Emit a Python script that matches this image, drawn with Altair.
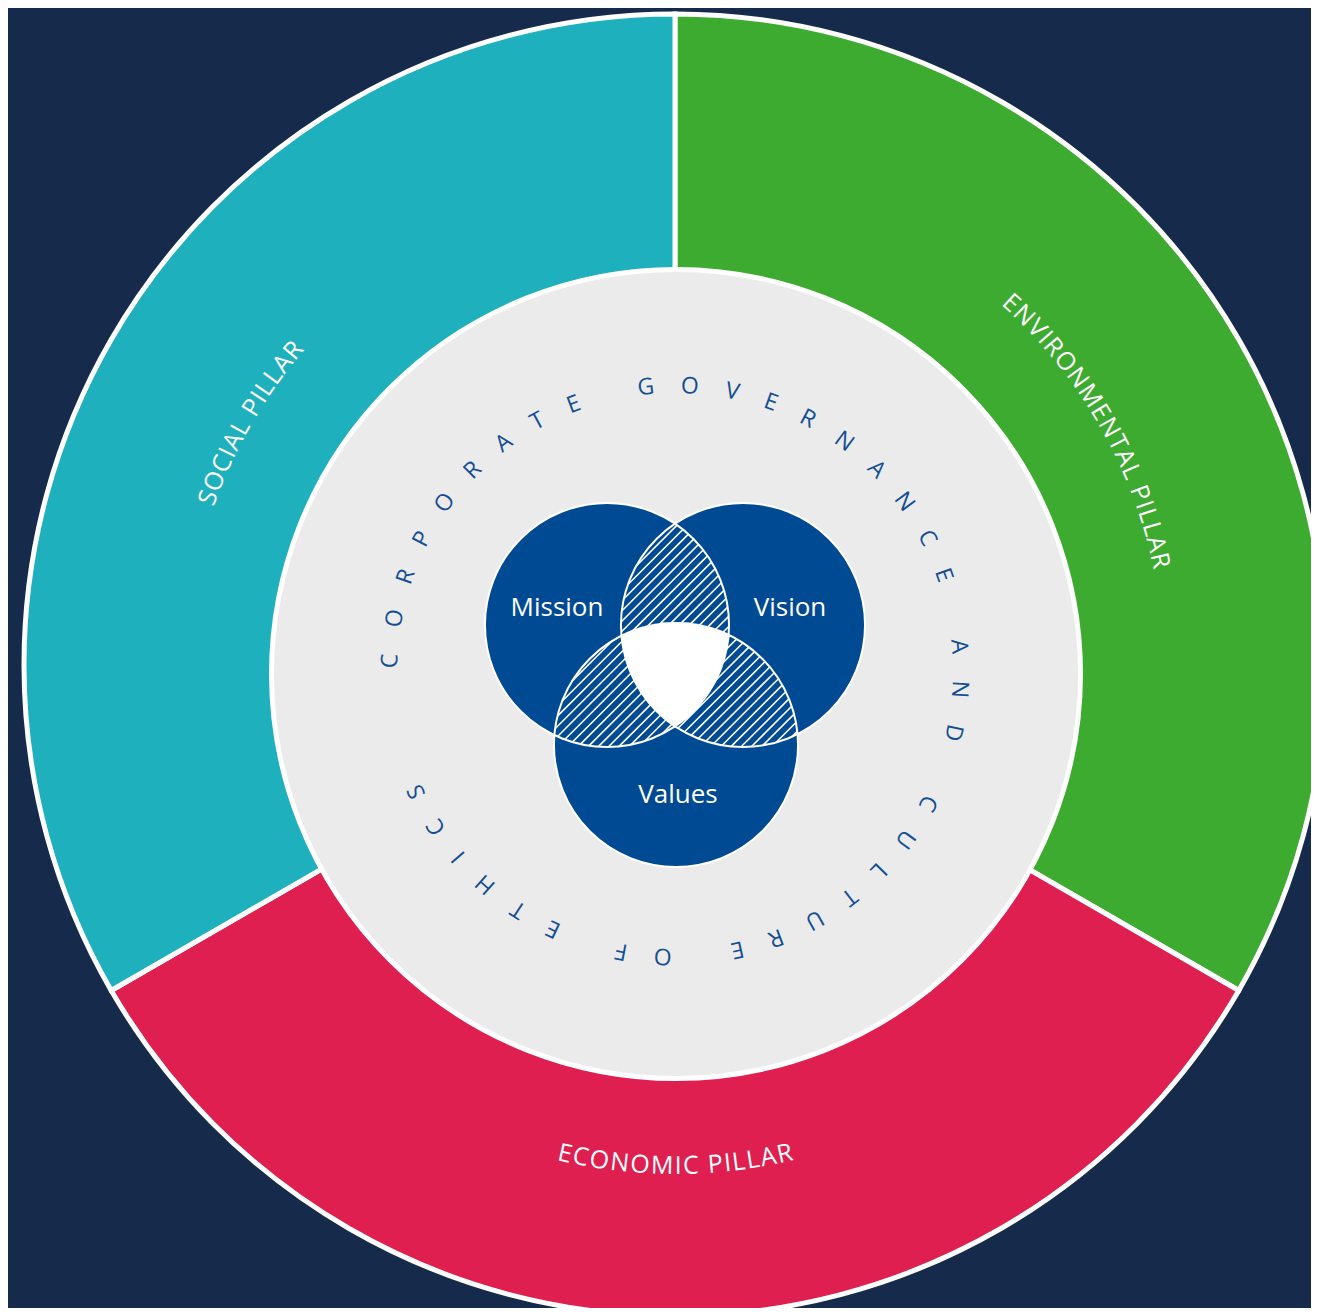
import math
import altair as alt
import pandas as pd

# ---------------- data ----------------
pillar_names = ["ENVIRONMENTAL PILLAR", "ECONOMIC PILLAR", "SOCIAL PILLAR"]
pillar_shares = [1, 1, 1]
pillar_colors = ["#3cab2f", "#df1f4f", "#1fb0be"]
venn_labels = ["Mission", "Vision", "Values"]
ring_text = "CORPORATE GOVERNANCE AND CULTURE OF ETHICS"

# ---------------- layout ----------------
W, H = 1303, 1300
OFF = 8
XS = alt.Scale(domain=[OFF, OFF + W], range=[0, W])
YS = alt.Scale(domain=[OFF, OFF + H], range=[0, H])

CX, CY = 675, 665          # pie centre
R_OUT = 651
GCX, GCY = 676, 674        # inner (gray) disc centre
R_GRAY = 404.5
LCX, LCY = 675, 669        # pillar label centre
LABEL_R = 497
LABEL_FS = 25
LABEL_TRACK = 1.2

RING_CX, RING_CY = 675, 671
RING_R = 285
RING_START = 272
RING_FS = 23
RING_TRACK = 26.8

VENN_C = [(607, 625), (743, 625), (676, 745)]
VR = 122
VENN_LABEL_POS = [(557, 616), (790, 616), (678, 803)]
HATCH_STEP = 10.2

BG = "#162a4b"
GRAY = "#ebebeb"
BLUE = "#004a93"
RING_COL = "#144e92"
FONT = "Open Sans"

# Open Sans advance widths (em)
WID = {"A": .633, "B": .648, "C": .631, "D": .729, "E": .556, "F": .516, "G": .728,
       "H": .738, "I": .279, "L": .524, "M": .903, "N": .760, "O": .781, "P": .611,
       "R": .625, "S": .549, "T": .556, "U": .737, "V": .608, " ": .26}


def X(f):
    return alt.X(f, type="quantitative", scale=XS, axis=None)


def Y(f):
    return alt.Y(f, type="quantitative", scale=YS, axis=None)


def XD(v):
    return alt.X(datum=v, type="quantitative", scale=XS, axis=None)


def YD(v):
    return alt.Y(datum=v, type="quantitative", scale=YS, axis=None)


def arc_letters(text, cx, cy, r, fs, track, start=None, mid=None, flip=False):
    w = [WID.get(ch, 0.6) * fs for ch in text]
    s = [0.0]
    for i in range(1, len(text)):
        s.append(s[-1] + (w[i - 1] + w[i]) / 2 + track)
    total = s[-1]
    rows = []
    for ch, si in zip(text, s):
        if ch == " ":
            continue
        if mid is not None:
            off = si - total / 2
            base = mid
        else:
            off = si
            base = start
        d = math.degrees(off / r)
        phi = base - d if flip else base + d
        rad = math.radians(phi)
        x = cx + r * math.sin(rad)
        y = cy - r * math.cos(rad)
        rot = (phi - 180) if flip else phi
        rows.append({"ch": ch, "x": x, "y": y, "rot": rot % 360})
    return rows


# ---------------- donut ----------------
tot = sum(pillar_shares)
acc = 0.0
donut_rows = []
label_rows = []
for name, sh, col in zip(pillar_names, pillar_shares, pillar_colors):
    a0 = acc / tot * 2 * math.pi
    acc += sh
    a1 = acc / tot * 2 * math.pi
    donut_rows.append({"name": name, "t0": a0, "t1": a1, "col": col})
    mid = math.degrees((a0 + a1) / 2)
    flip = 90 < mid < 270
    label_rows += arc_letters(name, LCX, LCY, LABEL_R, LABEL_FS, LABEL_TRACK, mid=mid, flip=flip)
donut_df = pd.DataFrame(donut_rows)
label_df = pd.DataFrame(label_rows)

donut = alt.Chart(donut_df).mark_arc(
    radius=R_OUT, stroke="white", strokeWidth=5, clip=True
).encode(
    x=XD(CX), y=YD(CY),
    theta=alt.Theta("t0:Q", scale=None),
    theta2=alt.Theta2("t1:Q"),
    color=alt.Color("col:N", scale=None),
)

pillar_text = alt.Chart(label_df).mark_text(
    font=FONT, fontSize=LABEL_FS, color="white", align="center", baseline="middle"
).encode(x=X("x"), y=Y("y"), angle=alt.Angle("rot:Q", scale=None), text="ch:N")

gray = alt.Chart(pd.DataFrame({"k": [0]})).mark_arc(
    radius=R_GRAY, theta=0, theta2=2 * math.pi, fill=GRAY, stroke="white", strokeWidth=5
).encode(x=XD(GCX), y=YD(GCY))

ring_df = pd.DataFrame(arc_letters(ring_text, RING_CX, RING_CY, RING_R, RING_FS, RING_TRACK,
                                   start=RING_START))
ring = alt.Chart(ring_df).mark_text(
    font=FONT, fontSize=RING_FS, color=RING_COL, align="center", baseline="middle"
).encode(x=X("x"), y=Y("y"), angle=alt.Angle("rot:Q", scale=None), text="ch:N")

# ---------------- venn ----------------
venn_df = pd.DataFrame({
    "label": venn_labels,
    "cx": [c[0] for c in VENN_C],
    "cy": [c[1] for c in VENN_C],
    "lx": [p[0] for p in VENN_LABEL_POS],
    "ly": [p[1] for p in VENN_LABEL_POS],
})

venn_fill = alt.Chart(venn_df).mark_arc(
    radius=VR, theta=0, theta2=2 * math.pi, fill=BLUE
).encode(x=X("cx"), y=Y("cy"))


def diag_interval(c, cx, cy, r):
    a = 2.0
    b = -2.0 * (cx + c - cy)
    cc = cx ** 2 + (c - cy) ** 2 - r ** 2
    disc = b * b - 4 * a * cc
    if disc <= 0:
        return None
    sq = math.sqrt(disc)
    return ((-b - sq) / (2 * a), (-b + sq) / (2 * a))


hatch_rows = []
cmin = min(cx + cy for cx, cy in VENN_C) - 2 * VR
cmax = max(cx + cy for cx, cy in VENN_C) + 2 * VR
pairs = [(0, 1, 2), (0, 2, 1), (1, 2, 0)]
c = cmin
while c <= cmax:
    for i, j, k in pairs:
        Ii = diag_interval(c, *VENN_C[i], VR)
        Ij = diag_interval(c, *VENN_C[j], VR)
        if Ii is None or Ij is None:
            continue
        lo, hi = max(Ii[0], Ij[0]), min(Ii[1], Ij[1])
        if hi <= lo:
            continue
        Ik = diag_interval(c, *VENN_C[k], VR)
        segs = []
        if Ik is None or Ik[1] <= lo or Ik[0] >= hi:
            segs.append((lo, hi))
        else:
            if Ik[0] > lo:
                segs.append((lo, Ik[0]))
            if Ik[1] < hi:
                segs.append((Ik[1], hi))
        for a0, a1 in segs:
            hatch_rows.append({"x": a0, "y": c - a0, "x2": a1, "y2": c - a1})
    c += HATCH_STEP
hatch_df = pd.DataFrame(hatch_rows)

hatch = alt.Chart(hatch_df).mark_rule(color="white", strokeWidth=1.6).encode(
    x=X("x"), y=Y("y"), x2="x2:Q", y2="y2:Q")

# triple intersection filled white
tri_rows = []
ymin = max(cy for _, cy in VENN_C) - VR
ymax = min(cy for _, cy in VENN_C) + VR
yy = ymin
while yy <= ymax:
    lo, hi = -1e9, 1e9
    ok = True
    for cx, cy in VENN_C:
        d = VR ** 2 - (yy - cy) ** 2
        if d <= 0:
            ok = False
            break
        h = math.sqrt(d)
        lo, hi = max(lo, cx - h), min(hi, cx + h)
    if ok and hi > lo:
        tri_rows.append({"x": lo, "x2": hi, "y": yy})
    yy += 1.0
tri_df = pd.DataFrame(tri_rows)
tri = alt.Chart(tri_df).mark_rule(color="white", strokeWidth=2.6).encode(
    x=X("x"), x2="x2:Q", y=Y("y"))

venn_outline = alt.Chart(venn_df).mark_arc(
    radius=VR, theta=0, theta2=2 * math.pi, fill="transparent", stroke="white", strokeWidth=2
).encode(x=X("cx"), y=Y("cy"))

venn_text = alt.Chart(venn_df).mark_text(
    font=FONT, fontSize=26, color="white", align="center", baseline="alphabetic"
).encode(x=X("lx"), y=Y("ly"), text="label:N")

chart = alt.layer(
    donut, pillar_text, gray, ring, venn_fill, hatch, tri, venn_outline, venn_text
).properties(
    width=W, height=H, padding=0,
    autosize=alt.AutoSizeParams(type="none"),
    background=BG,
).configure_view(stroke=None)

chart.save("out.html", embed_options={"renderer": "svg", "actions": False})
